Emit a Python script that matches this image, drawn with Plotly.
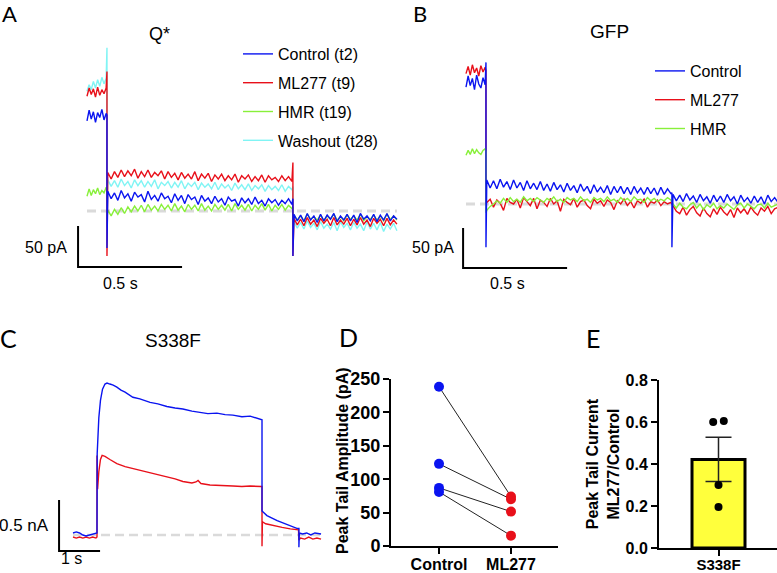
import numpy as np
import plotly.graph_objects as go

W, H = 777, 573
FONT = "Arial, Liberation Sans, sans-serif"

# ---------------- DATA ----------------
# Panel A (Q*), current in pA, time in s
A_names = ["Control (t2)", "ML277 (t9)", "HMR (t19)", "Washout (t28)"]
A_colors = ["#0A14F0", "#E8101A", "#88F03A", "#80F4F4"]
A_step_on, A_step_off, A_t_end = 0.096, 0.99, 1.49
A_pre = {
    "Control (t2)": [110, 123, 112, 121, 108, 120, 114, 124, 111, 119],
    "ML277 (t9)": [140, 150, 142, 149, 139, 151, 141, 148, 143, 150],
    "HMR (t19)": [18, 27, 19, 26, 21, 28, 20, 25, 22, 29],
    "Washout (t28)": [146, 154, 148, 158, 150, 160, 152, 163, 155, 162],
}
A_pulse = {
    "Control (t2)": [24, 15, 22, 13, 25, 16, 21, 12, 23, 17, 20, 11, 24, 14, 19, 12, 22, 15, 18, 10, 21, 13, 19, 9, 20, 14, 17, 8, 19, 12, 16, 9, 18, 11, 15, 7, 17, 12, 14, 6, 16, 10, 15, 8, 17, 9, 13, 6, 15, 10, 14, 7, 13, 9, 15, 8],
    "ML277 (t9)": [47, 39, 48, 41, 50, 42, 49, 43, 51, 40, 48, 42, 50, 41, 47, 43, 49, 39, 48, 41, 46, 38, 47, 40, 45, 39, 48, 37, 45, 40, 46, 36, 44, 39, 45, 37, 43, 38, 45, 35, 43, 39, 44, 36, 42, 37, 44, 35, 43, 38, 41, 36, 43, 37, 42, 36],
    "HMR (t19)": [1, -6, 2, -4, 4, -3, 5, -1, 6, 0, 7, -1, 8, 1, 6, 0, 8, 2, 7, 0, 9, 1, 6, -1, 8, 2, 7, 0, 9, 1, 6, 0, 8, 2, 7, 1, 8, 0, 9, 2, 7, 1, 8, 0, 7, 2, 9, 1, 8, 0, 7, 2, 8, 1, 7, 3],
    "Washout (t28)": [38, 30, 37, 29, 39, 31, 36, 28, 38, 31, 37, 29, 36, 30, 38, 27, 35, 31, 36, 28, 35, 29, 37, 27, 34, 30, 35, 26, 34, 29, 33, 27, 35, 26, 33, 28, 32, 25, 34, 27, 32, 26, 33, 25, 31, 27, 32, 24, 31, 26, 30, 25, 32, 24, 30, 26],
}
A_post = {
    "Control (t2)": [-4, -12, -5, -13, -3, -11, -6, -14, -4, -12, -5, -10, -3, -13, -6, -11, -4, -12, -5, -14, -3, -10, -6, -12, -4, -13, -5, -11, -3, -12, -6, -10],
    "ML277 (t9)": [-9, -17, -10, -18, -8, -16, -11, -19, -9, -15, -10, -18, -8, -17, -11, -16, -9, -18, -10, -17, -8, -16, -11, -19, -9, -15, -10, -18, -9, -17, -11, -16],
    "HMR (t19)": [-5, -11, -6, -12, -4, -10, -7, -11, -5, -12, -6, -10, -4, -11, -7, -12, -5, -10, -6, -11, -4, -12, -7, -10, -5, -11, -6, -12, -4, -10, -6, -11],
    "Washout (t28)": [-13, -21, -14, -22, -12, -20, -15, -23, -13, -21, -16, -22, -14, -24, -13, -20, -15, -23, -14, -21, -16, -24, -13, -22, -15, -23, -14, -25, -16, -22, -15, -24],
}
# capacitive transients (peak, trough) at step on / step off
A_spike_on = {"Control (t2)": (117, -45), "ML277 (t9)": (170, -55), "HMR (t19)": (23, -10), "Washout (t28)": (199, -20)}
A_spike_off = {"Control (t2)": (15, -55), "ML277 (t9)": (59, -55), "HMR (t19)": (5, -20), "Washout (t28)": (30, -30)}
A_draw_order = ["Washout (t28)", "HMR (t19)", "ML277 (t9)", "Control (t2)"]

# Panel B (GFP)
B_names = ["Control", "ML277", "HMR"]
B_colors = ["#0A14F0", "#E8101A", "#88F03A"]
B_step_on, B_step_off, B_t_end = 0.096, 0.99, 1.50
B_pre = {
    "Control": [146, 160, 148, 157, 143, 161, 150, 145, 158, 149],
    "ML277": [163, 172, 161, 174, 164, 170, 160, 173, 165, 171],
    "HMR": [61, 67, 62, 69, 63, 68, 64, 62, 67, 69],
}
B_pulse = {
    "Control": [30, 20, 29, 19, 31, 21, 28, 18, 30, 20, 27, 17, 29, 19, 26, 18, 28, 17, 25, 16, 27, 18, 24, 15, 26, 17, 23, 14, 25, 16, 22, 13, 24, 15, 21, 14, 23, 12, 22, 14, 22, 13, 21, 12, 22, 14, 20, 12, 21, 13, 20, 11, 21, 12, 19, 13],
    "ML277": [2, 6, -4, 5, 1, -8, 7, 2, 0, 6, -5, 8, 3, -2, 7, -6, 5, 2, -3, 7, 0, 4, -9, 6, 2, -1, 7, -4, 3, 5, -2, -6, 6, 1, 4, -3, 5, 2, -7, 4, 0, 6, -2, 3, -5, 4, 1, 6, -4, 3, 1, 5, -2, 3, 0, 2],
    "HMR": [-8, -3, 0, 4, 1, 7, 2, 8, 3, 6, 2, 9, 4, 7, 3, 8, 5, 2, 7, 4, 9, 3, 6, 2, 8, 5, 7, 3, 9, 4, 6, 2, 8, 5, 7, 3, 9, 4, 6, 2, 8, 4, 7, 3, 9, 5, 6, 2, 8, 4, 7, 3, 6, 4, 8, 5],
}
B_post = {
    "Control": [12, 4, 11, 3, 13, 5, 10, 2, 12, 4, 9, 1, 11, 3, 10, 2, 12, 4, 9, 0, 11, 3, 8, 1, 10, 2, 9, 0, 11, 3, 8, 2],
    "ML277": [-2, -9, -12, -4, -14, -7, -3, -11, -15, -5, -12, -16, -6, -13, -4, -10, -14, -7, -17, -5, -11, -6, -13, -4, -10, -14, -5, -9, -3, -12, -6, -4],
    "HMR": [0, -5, 1, -4, -6, -1, 2, -5, 0, -7, -1, -4, 1, -6, -2, -5, 0, -4, -7, -1, 1, -5, 0, -3, -6, -1, 0, -5, 1, -4, -2, 0],
}
B_spike_on = {"Control": (177, -54), "ML277": (167, 0), "HMR": (65, -11)}
B_spike_off = {"Control": (14, -54), "ML277": None, "HMR": None}
B_draw_order = ["ML277", "HMR", "Control"]

# Panel C (S338F), current in nA
C_blue_t = [0.00, 0.08, 0.16, 0.24, 0.32, 0.40, 0.48, 0.56, 0.585, 0.59, 0.60, 0.63, 0.67, 0.72, 0.78, 0.83,
            0.90, 0.98, 1.07, 1.17, 1.27, 1.37, 1.46, 1.63, 1.88, 2.07, 2.29, 2.49, 2.68, 2.90, 3.10, 3.29,
            3.51, 3.71, 3.90, 4.12, 4.32, 4.46, 4.59, 4.61, 4.61, 4.73, 4.98, 5.22, 5.46, 5.51, 5.51, 5.52,
            5.60, 5.70, 5.80, 5.90, 6.05]
C_blue = [0.02, 0.03, 0.02, 0.00, -0.01, 0.00, 0.01, 0.02, 0.02, 0.80, 0.95, 1.15, 1.32, 1.43, 1.48, 1.49,
          1.48, 1.47, 1.45, 1.42, 1.40, 1.37, 1.35, 1.335, 1.30, 1.285, 1.26, 1.245, 1.235, 1.215, 1.205, 1.19,
          1.195, 1.18, 1.175, 1.16, 1.165, 1.15, 1.13, 1.13, 0.235, 0.19, 0.14, 0.10, 0.065, 0.065, -0.12, 0.02,
          0.01, 0.02, 0.00, 0.02, 0.01]
C_red_t = [0.00, 0.08, 0.16, 0.24, 0.32, 0.40, 0.48, 0.56, 0.585, 0.585, 0.60, 0.63, 0.67, 0.71, 0.78, 0.90,
           1.07, 1.27, 1.46, 1.68, 1.88, 2.07, 2.29, 2.49, 2.68, 2.90, 3.00, 3.05, 3.12, 3.34, 3.51, 3.71,
           3.90, 4.12, 4.32, 4.59, 4.61, 4.61, 4.62, 4.70, 4.90, 5.10, 5.30, 5.50, 5.51, 5.55, 5.65, 5.75,
           5.85, 5.95, 6.05]
C_red = [-0.02, -0.03, -0.02, -0.03, -0.02, -0.03, -0.02, -0.03, -0.02, 0.78, 0.45, 0.62, 0.74, 0.78, 0.77, 0.74,
         0.70, 0.67, 0.65, 0.63, 0.61, 0.59, 0.57, 0.55, 0.525, 0.51, 0.52, 0.535, 0.505, 0.49, 0.485, 0.48,
         0.48, 0.475, 0.48, 0.475, 0.475, -0.11, 0.13, 0.11, 0.09, 0.075, 0.06, 0.05, -0.05, -0.03, -0.04, -0.02,
         -0.04, -0.03, -0.04]
C_t_end = 6.05

# Panel D: peak tail amplitude (pA), paired cells
D_categories = ["Control", "ML277"]
D_control = [238.5, 123, 87, 81]
D_ml277 = [74, 70, 51.5, 15.5]

# Panel E: ratio ML277/Control
E_category = "S338F"
E_points = [0.60, 0.605, 0.30, 0.195]
E_jitter = [-0.10, 0.10, 0.0, 0.0]
E_mean = 0.422
E_sem = 0.105

# Scale bars: (t corner, y corner, time length, current length)
A_scale = (-0.043, -68.3, 0.5, 50)
B_scale = (-0.014, -80.0, 0.5, 50)
C_scale = (-0.34, -0.157, 1.0, 0.5)

# ---------------- HELPERS ----------------
def xdom(p0, p1):
    return [p0 / W, p1 / W]

def ydom(ptop, pbot):
    return [1 - pbot / H, 1 - ptop / H]

def xr(p0, p1, origin, scale):
    return [(p0 - origin) / scale, (p1 - origin) / scale]

def yr(ptop, pbot, origin, scale):
    return [(origin - pbot) / scale, (origin - ptop) / scale]

def build(pre, pulse, post, t_on, t_off, t_end, sp_on, sp_off):
    t_pre = np.linspace(0, t_on - 0.004, len(pre))
    t_pulse = np.linspace(t_on + 0.004, t_off - 0.005, len(pulse))
    t_post = np.linspace(t_off + 0.005, t_end, len(post))
    xs = list(t_pre)
    ys = list(pre)
    xs += [t_on, t_on]
    ys += list(sp_on)
    xs += list(t_pulse)
    ys += list(pulse)
    if sp_off is not None:
        xs += [t_off, t_off]
        ys += list(sp_off)
    xs += list(t_post)
    ys += list(post)
    return xs, ys

fig = go.Figure()
GRAY = dict(color="#DADADA", width=3, dash="9px,5px")
TW = 1.4

# ---------- Panel A ----------
fig.add_trace(go.Scatter(x=[0, A_t_end], y=[0, 0], mode="lines", xaxis="x", yaxis="y",
                         line=GRAY, showlegend=False, hoverinfo="skip"))
for name in A_draw_order:
    xs, ys = build(A_pre[name], A_pulse[name], A_post[name], A_step_on, A_step_off, A_t_end,
                   A_spike_on[name], A_spike_off[name])
    fig.add_trace(go.Scatter(x=xs, y=ys, mode="lines", name=name, xaxis="x", yaxis="y",
                             line=dict(color=A_colors[A_names.index(name)], width=TW),
                             legend="legend", legendgroup=name, legendrank=A_names.index(name) + 1))
t0, y0, dt, dy = A_scale
fig.add_trace(go.Scatter(x=[t0, t0, t0 + dt], y=[y0 + dy, y0, y0], mode="lines", xaxis="x", yaxis="y",
                         line=dict(color="black", width=2), showlegend=False, hoverinfo="skip"))

# ---------- Panel B ----------
fig.add_trace(go.Scatter(x=[0, B_t_end], y=[0, 0], mode="lines", xaxis="x2", yaxis="y2",
                         line=GRAY, showlegend=False, hoverinfo="skip"))
for name in B_draw_order:
    xs, ys = build(B_pre[name], B_pulse[name], B_post[name], B_step_on, B_step_off, B_t_end,
                   B_spike_on[name], B_spike_off[name])
    fig.add_trace(go.Scatter(x=xs, y=ys, mode="lines", name=name, xaxis="x2", yaxis="y2",
                             line=dict(color=B_colors[B_names.index(name)], width=TW),
                             legend="legend2", legendgroup="B" + name, legendrank=B_names.index(name) + 1))
t0, y0, dt, dy = B_scale
fig.add_trace(go.Scatter(x=[t0, t0, t0 + dt], y=[y0 + dy, y0, y0], mode="lines", xaxis="x2", yaxis="y2",
                         line=dict(color="black", width=2), showlegend=False, hoverinfo="skip"))

# ---------- Panel C ----------
fig.add_trace(go.Scatter(x=[0, C_t_end], y=[0, 0], mode="lines", xaxis="x3", yaxis="y3",
                         line=dict(color="#DADADA", width=2.5, dash="9px,5px"), showlegend=False, hoverinfo="skip"))
fig.add_trace(go.Scatter(x=C_red_t, y=C_red, mode="lines", xaxis="x3", yaxis="y3", showlegend=False,
                         line=dict(color="#E8101A", width=1.4), name="ML277"))
fig.add_trace(go.Scatter(x=C_blue_t, y=C_blue, mode="lines", xaxis="x3", yaxis="y3", showlegend=False,
                         line=dict(color="#0A14F0", width=1.4), name="Control"))
t0, y0, dt, dy = C_scale
fig.add_trace(go.Scatter(x=[t0, t0, t0 + dt], y=[y0 + dy, y0, y0], mode="lines", xaxis="x3", yaxis="y3",
                         line=dict(color="black", width=2), showlegend=False, hoverinfo="skip"))

# ---------- Panel D ----------
for c, m in zip(D_control, D_ml277):
    fig.add_trace(go.Scatter(x=[0, 1], y=[c, m], mode="lines", xaxis="x4", yaxis="y4",
                             line=dict(color="#222222", width=1), showlegend=False, hoverinfo="skip"))
fig.add_trace(go.Scatter(x=[0] * len(D_control), y=D_control, mode="markers", xaxis="x4", yaxis="y4",
                         marker=dict(color="#0A14F0", size=10), showlegend=False, cliponaxis=False))
fig.add_trace(go.Scatter(x=[1] * len(D_ml277), y=D_ml277, mode="markers", xaxis="x4", yaxis="y4",
                         marker=dict(color="#E8101A", size=10), showlegend=False, cliponaxis=False))

# ---------- Panel E ----------
fig.add_trace(go.Bar(x=[0], y=[E_mean], width=[1.0], xaxis="x5", yaxis="y5", showlegend=False,
                     marker=dict(color="#FFFF3C", line=dict(color="black", width=3)),
                     error_y=dict(type="data", array=[E_sem], visible=True, color="#222222",
                                  thickness=1.5, width=13)))
fig.add_trace(go.Scatter(x=E_jitter, y=E_points, mode="markers", xaxis="x5", yaxis="y5",
                         marker=dict(color="black", size=8), showlegend=False, cliponaxis=False))

# ---------------- LAYOUT ----------------
hidden = dict(visible=False, showgrid=False, zeroline=False, fixedrange=True)

def bold(size):
    return dict(family=FONT, size=size, color="black", weight="bold")

def axis_style(size, standoff=0):
    return dict(showline=True, linewidth=2, linecolor="black", ticks="outside", ticklen=6,
                tickwidth=2, tickcolor="black", showgrid=False, zeroline=False, tickfont=bold(size),
                automargin=False, ticklabelstandoff=standoff)

fig.update_layout(
    width=W, height=H, margin=dict(l=0, r=0, t=0, b=0, pad=0, autoexpand=False),
    paper_bgcolor="white", plot_bgcolor="white",
    font=dict(family=FONT, size=16, color="black"),
    xaxis=dict(domain=xdom(60, 400), range=xr(60, 400, 87, 208), anchor="y", **hidden),
    yaxis=dict(domain=ydom(30, 280), range=yr(30, 280, 211, 0.82), anchor="x", **hidden),
    xaxis2=dict(domain=xdom(455, 777), range=xr(455, 777, 466, 208), anchor="y2", **hidden),
    yaxis2=dict(domain=ydom(30, 280), range=yr(30, 280, 204, 0.8), anchor="x2", **hidden),
    xaxis3=dict(domain=xdom(45, 330), range=xr(45, 330, 73, 41), anchor="y3", **hidden),
    yaxis3=dict(domain=ydom(360, 565), range=yr(360, 565, 535, 102), anchor="x3", **hidden),
    xaxis4=dict(domain=xdom(391, 558), range=[-0.667, 1.653], anchor="y4",
                tickvals=[0, 1], ticktext=D_categories, **axis_style(16, -3)),
    yaxis4=dict(domain=ydom(379, 546), range=[0, 250], anchor="x4", tickvals=[0, 50, 100, 150, 200, 250],
                **axis_style(18, -1)),
    xaxis5=dict(domain=xdom(659, 777), range=[-1.123, 1.104], anchor="y5",
                tickvals=[0], ticktext=[E_category], **axis_style(15, -4)),
    yaxis5=dict(domain=ydom(380, 548), range=[0, 0.8], anchor="x5", tickvals=[0, 0.2, 0.4, 0.6, 0.8],
                tickformat=".1f",
                title=dict(text="Peak Tail Current<br>ML277/Control", font=bold(16), standoff=2), **axis_style(16)),
    legend=dict(x=238 / W, y=1 - 37 / H, xanchor="left", yanchor="top", bgcolor="rgba(0,0,0,0)",
                font=dict(family=FONT, size=16), traceorder="grouped", tracegroupgap=5),
    legend2=dict(x=650 / W, y=1 - 54 / H, xanchor="left", yanchor="top", bgcolor="rgba(0,0,0,0)",
                 font=dict(family=FONT, size=16), traceorder="grouped", tracegroupgap=5),
    showlegend=True,
)

def ann(text, px, py, size=16, xanchor="center", yanchor="middle", family=FONT, angle=0, weight="normal"):
    fig.add_annotation(text=text, x=px / W, y=1 - py / H, xref="paper", yref="paper",
                       xanchor=xanchor, yanchor=yanchor, showarrow=False, textangle=angle,
                       font=dict(family=family, size=size, color="black", weight=weight))

# D y-axis title (placed tight to the tick labels as in the reference)
ann("Peak Tail Amplitude (pA)", 342, 461, size=16, angle=-90, weight="bold")

LETTER = "Lato, Open Sans, sans-serif"
ann("A", 9, 13, size=22, family=LETTER)
ann("B", 420, 13, size=22, family=LETTER)
ann("C", 8, 338, size=25, family=LETTER)
ann("D", 348, 337, size=25, family=LETTER)
ann("E", 593, 338, size=25, family=LETTER)

ann("Q*", 159, 34, size=18)
ann("GFP", 609, 31, size=19)
ann("S338F", 173, 340, size=19)

ann("50 pA", 69, 247, xanchor="right")
ann("0.5 s", 120, 284)
ann("50 pA", 456, 247, xanchor="right")
ann("0.5 s", 508, 284)
ann("0.5 nA", 51, 525, size=17, xanchor="right")
ann("1 s", 71, 558)

fig.write_html("out.html", config={"displayModeBar": False},
               post_script="document.body.style.margin='0px';")
